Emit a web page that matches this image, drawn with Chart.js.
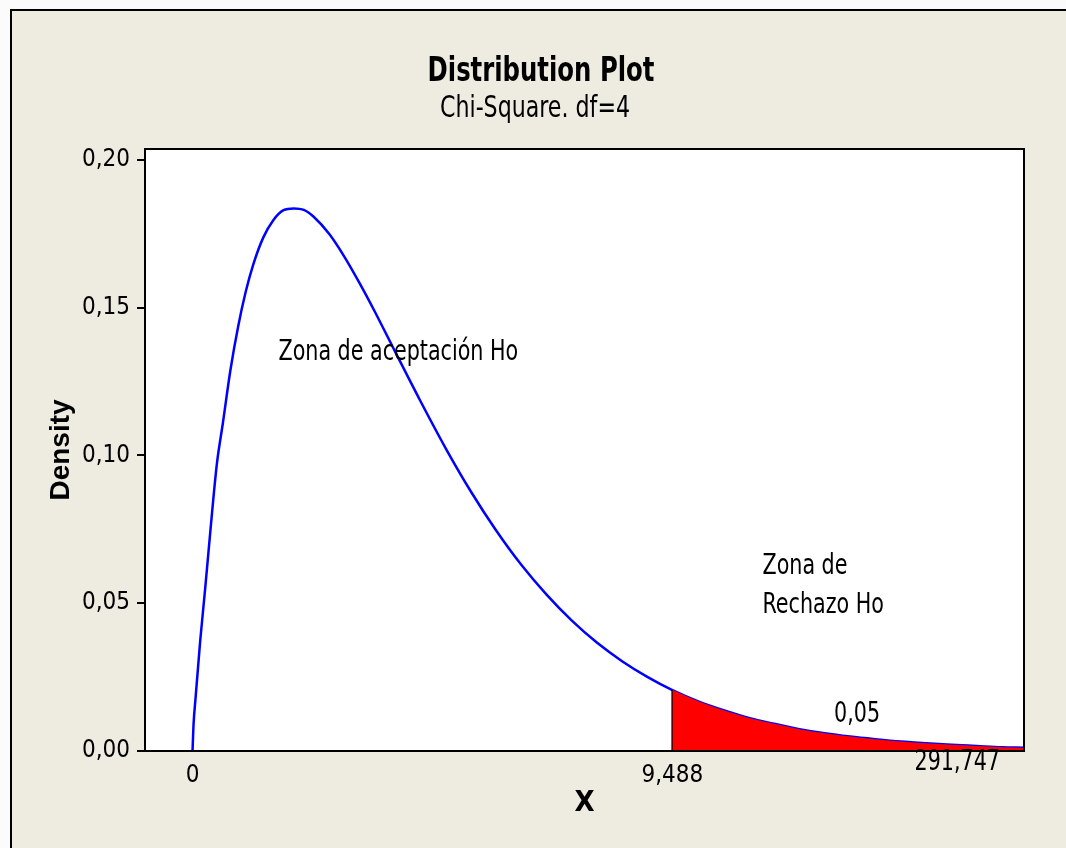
<!DOCTYPE html>
<html>
<head>
<meta charset="utf-8">
<title>Distribution Plot</title>
<script src="https://cdn.jsdelivr.net/npm/chart.js@4/dist/chart.umd.min.js"></script>
<style>
    html, body { margin: 0; padding: 0; background: #fbfbfb; }
    canvas { display: block; }
</style>
</head>
<body>
<canvas id="plot" width="1066" height="848"></canvas>
<script>
// Chi-square (df=4) density
const densityX = [0, 0.02, 0.06, 0.15, 0.25, 0.35, 0.48, 0.6, 0.75, 0.9, 1.05, 1.2, 1.4, 1.6, 1.8, 2.0,
    2.2, 2.4, 2.7, 3.0, 3.3, 3.6, 4.0, 4.5, 5.0, 5.5, 6.0, 6.5, 7.0, 7.5, 8.0, 8.5, 9.0, 9.488,
    10.0, 10.5, 11.0, 11.5, 12.0, 12.5, 13.0, 13.5, 14.0, 14.5, 15.0, 15.5, 16.0, 16.44];
const densityY = [0, 0.009, 0.018, 0.037, 0.055, 0.074, 0.097, 0.111, 0.129, 0.1435, 0.1553, 0.1646, 0.1738, 0.1797, 0.183, 0.1836,
    0.1831, 0.1807, 0.175, 0.1673, 0.1584, 0.1488, 0.1353, 0.1186, 0.1026, 0.0879, 0.0747, 0.063, 0.0529, 0.0441, 0.0366, 0.0303, 0.025, 0.0206,
    0.0168, 0.0138, 0.0112, 0.0092, 0.0074, 0.006, 0.0049, 0.004, 0.0032, 0.0026, 0.0021, 0.0017, 0.0013, 0.0011];

const criticalValue = 9.488;
const xTickValues = [0, criticalValue];
const yTickValues = [0, 0.05, 0.10, 0.15, 0.20];

// Text notes placed in data units
const noteTexts = ['Zona de aceptación Ho', 'Zona de', 'Rechazo Ho', '0,05', '291,747'];
const noteX = [1.7, 11.27, 11.27, 13.14, 15.12];
const noteY = [0.1348, 0.0622, 0.049, 0.0122, -0.004];
const noteAlign = ['left', 'left', 'left', 'center', 'center'];

const NARROW = '"Liberation Sans Narrow", "DejaVu Sans Condensed", sans-serif';
const SQUEEZE = 0.82; // the reference uses a narrow face

const curvePoints = densityX.map((x, i) => ({ x: x, y: densityY[i] }));
const tailPoints = curvePoints.filter(p => p.x >= criticalValue);
const criticalY = densityY[densityX.indexOf(criticalValue)];

function comma(v, digits) {
    return v.toFixed(digits).replace('.', ',');
}

// draws text squeezed horizontally around its anchor
function narrowText(ctx, text, x, y, align) {
    ctx.save();
    ctx.translate(x, y);
    ctx.scale(SQUEEZE, 1);
    ctx.textAlign = align;
    ctx.fillText(text, 0, 0);
    ctx.restore();
}

// Background, frame, white plot area, border and text notes
const framePlugin = {
    id: 'frame',
    beforeDraw(chart) {
        const { ctx, chartArea: a } = chart;
        ctx.save();
        ctx.fillStyle = '#fbfbfb';
        ctx.fillRect(0, 0, chart.width, chart.height);
        ctx.fillStyle = '#eeebe1';
        ctx.fillRect(10, 9, chart.width - 10, chart.height - 9);
        ctx.strokeStyle = '#000';
        ctx.lineWidth = 2;
        ctx.beginPath();
        ctx.moveTo(11, chart.height);
        ctx.lineTo(11, 10);
        ctx.lineTo(chart.width, 10);
        ctx.stroke();
        ctx.fillStyle = '#fff';
        ctx.fillRect(a.left, a.top, a.right - a.left, a.bottom - a.top);

        // title and subtitle
        ctx.fillStyle = '#000';
        ctx.textBaseline = 'alphabetic';
        ctx.font = 'bold 33px ' + NARROW;
        narrowText(ctx, 'Distribution Plot', 541, 81, 'center');
        ctx.font = '30px ' + NARROW;
        narrowText(ctx, 'Chi-Square. df=4', 535, 117, 'center');
        ctx.restore();
    },
    afterDatasetsDraw(chart) {
        const { ctx, chartArea: a, scales } = chart;
        ctx.save();
        ctx.strokeStyle = '#000';
        ctx.lineWidth = 2;
        ctx.strokeRect(a.left, a.top, a.right - a.left, a.bottom - a.top);

        ctx.fillStyle = '#000';
        ctx.font = '28px ' + NARROW;
        ctx.textBaseline = 'middle';
        noteTexts.forEach((t, i) => {
            narrowText(ctx, t, scales.x.getPixelForValue(noteX[i]), scales.y.getPixelForValue(noteY[i]), noteAlign[i]);
        });
        ctx.restore();
    }
};

const chart = new Chart(document.getElementById('plot'), {
    type: 'line',
    data: {
        datasets: [
            {
                // rejection area
                data: tailPoints,
                borderWidth: 0,
                backgroundColor: '#ff0000',
                fill: 'origin',
                pointRadius: 0,
                cubicInterpolationMode: 'monotone'
            },
            {
                // critical value line
                data: [{ x: criticalValue, y: 0 }, { x: criticalValue, y: criticalY }],
                borderColor: '#000',
                borderWidth: 2,
                pointRadius: 0,
                fill: false
            },
            {
                data: curvePoints,
                borderColor: '#0000ff',
                borderWidth: 2.5,
                pointRadius: 0,
                fill: false,
                cubicInterpolationMode: 'monotone'
            }
        ]
    },
    options: {
        responsive: false,
        animation: false,
        layout: { padding: { top: 149, right: 42, left: 0, bottom: 0 } },
        plugins: {
            legend: { display: false },
            tooltip: { enabled: false }
        },
        scales: {
            x: {
                type: 'linear',
                min: -0.94,
                max: 16.44,
                afterBuildTicks: scale => { scale.ticks = xTickValues.map(v => ({ value: v })); },
                afterFit: scale => { scale.height = 97; },
                grid: { display: false, drawTicks: false },
                border: { display: false },
                ticks: {
                    color: '#000',
                    padding: 10,
                    maxRotation: 0,
                    font: { family: NARROW, size: 24 },
                    callback: v => v === 0 ? '0' : comma(v, 3)
                },
                title: {
                    display: true,
                    text: 'X',
                    color: '#000',
                    padding: { top: 0, bottom: 27 },
                    font: { family: NARROW, size: 29, weight: 'bold' }
                }
            },
            y: {
                min: 0,
                max: 0.2037,
                afterBuildTicks: scale => { scale.ticks = yTickValues.map(v => ({ value: v })); },
                afterFit: scale => { scale.width = 145; },
                grid: { display: true, drawOnChartArea: false, drawTicks: true, tickLength: 8, color: '#000', lineWidth: 2 },
                border: { display: false },
                ticks: {
                    color: '#000',
                    padding: 7,
                    font: { family: NARROW, size: 24 },
                    callback: v => comma(v, 2)
                },
                title: {
                    display: true,
                    text: 'Density',
                    color: '#000',
                    padding: { top: 44, bottom: 0 },
                    font: { family: '"Liberation Sans", "DejaVu Sans", sans-serif', size: 28, weight: 'bold' }
                }
            }
        }
    },
    plugins: [framePlugin]
});
</script>
</body>
</html>
